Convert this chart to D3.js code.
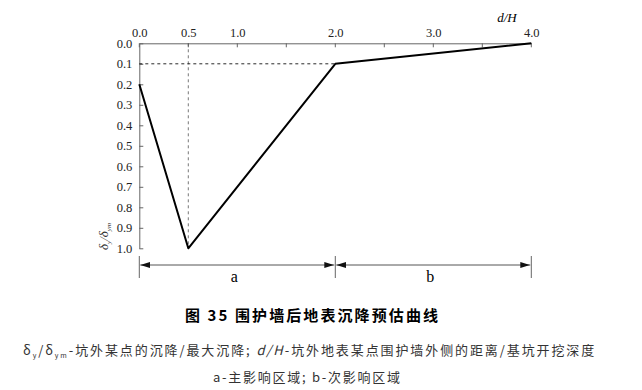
<!DOCTYPE html>
<html>
<head>
<meta charset="utf-8">
<script src="https://cdn.jsdelivr.net/npm/d3@7"></script>
<style>
  body { margin: 0; background: #fff; }
  svg { display: block; }
</style>
</head>
<body>
<div id="chart"></div>
<script>
// curve points (d/H, settlement ratio)
const xValues = [0.0, 0.5, 2.0, 4.0];
const yValues = [0.2, 1.0, 0.1, 0.0];
const xTickLabels = [0.0, 0.5, 1.0, 2.0, 3.0, 4.0];
const xMinorTicks = [0.0, 0.5, 1.0, 1.5, 2.0, 2.5, 3.0, 3.5, 4.0];
const yTickLabels = [0.0, 0.1, 0.2, 0.3, 0.4, 0.5, 0.6, 0.7, 0.8, 0.9, 1.0];
const zoneNames = ['a', 'b'];
const zoneBounds = [[0, 2], [2, 4]];
const guideX = 0.5;
const guideY = 0.1;
const titleText = '图 35 围护墙后地表沉降预估曲线';
const noteLine1 = '-坑外某点的沉降/最大沉降; ';
const noteLine1b = '-坑外地表某点围护墙外侧的距离/基坑开挖深度';
const noteLine2 = 'a-主影响区域; b-次影响区域';

const WIDTH = 642;
const HEIGHT = 390;
const SERIF = '"Liberation Serif", "DejaVu Serif", serif';

const svg = d3.select('#chart')
  .append('svg')
  .attr('width', WIDTH)
  .attr('height', HEIGHT);

const x = d3.scaleLinear().domain([0, 4]).range([139.3, 531.3]);
const y = d3.scaleLinear().domain([0, 1]).range([43.3, 248.3]);

svg.append('defs')
  .append('marker')
  .attr('id', 'arrow')
  .attr('viewBox', '0 0 10 6')
  .attr('refX', 10)
  .attr('refY', 3)
  .attr('markerWidth', 10)
  .attr('markerHeight', 6)
  .attr('markerUnits', 'userSpaceOnUse')
  .attr('orient', 'auto-start-reverse')
  .append('path')
  .attr('d', 'M0,0 L10,3 L0,6 Z')
  .attr('fill', '#111');

// top axis
const xAxis = svg.append('g')
  .attr('transform', `translate(0, ${y(0)})`)
  .call(d3.axisTop(x).tickValues(xTickLabels).tickFormat(d3.format('.1f')).tickSize(0).tickPadding(6))
  .attr('font-family', SERIF)
  .attr('font-size', 12.5);
xAxis.select('.domain').attr('stroke', '#666');
xAxis.selectAll('.tick text').attr('fill', '#222');
svg.append('g')
  .selectAll('line')
  .data(xMinorTicks)
  .join('line')
  .attr('x1', (d) => x(d))
  .attr('x2', (d) => x(d))
  .attr('y1', y(0))
  .attr('y2', y(0) + 4)
  .attr('stroke', '#666');

// left axis
const yAxis = svg.append('g')
  .attr('transform', `translate(${x(0)}, 0)`)
  .call(d3.axisLeft(y).tickValues(yTickLabels).tickFormat(d3.format('.1f')).tickSizeInner(-4).tickSizeOuter(0).tickPadding(5))
  .attr('font-family', SERIF)
  .attr('font-size', 12.5);
yAxis.select('.domain').attr('stroke', '#666');
yAxis.selectAll('.tick line').attr('stroke', '#666');
yAxis.selectAll('.tick text').attr('dx', -2).attr('fill', '#222');

// guide lines
svg.append('line')
  .attr('x1', x(guideX)).attr('x2', x(guideX))
  .attr('y1', y(0)).attr('y2', y(1))
  .attr('stroke', '#555')
  .attr('stroke-width', 0.8)
  .attr('stroke-dasharray', '3,3');
svg.append('line')
  .attr('x1', x(0)).attr('x2', x(2))
  .attr('y1', y(guideY)).attr('y2', y(guideY))
  .attr('stroke', '#111')
  .attr('stroke-width', 0.9)
  .attr('stroke-dasharray', '3,3');

// curve
const line = d3.line()
  .x((d, i) => x(xValues[i]))
  .y((d) => y(d));
svg.append('path')
  .datum(yValues)
  .attr('d', line)
  .attr('fill', 'none')
  .attr('stroke', '#000')
  .attr('stroke-width', 2)
  .attr('stroke-linejoin', 'round');

// axis names
svg.append('text')
  .attr('x', 507)
  .attr('y', 22)
  .attr('text-anchor', 'middle')
  .style('font-family', SERIF)
  .style('font-style', 'italic')
  .style('font-size', '13px')
  .text('d/H');

const yName = svg.append('text')
  .attr('transform', `translate(108, 250) rotate(-90)`)
  .style('font-family', SERIF)
  .style('font-style', 'italic')
  .style('font-size', '13px')
  .attr('fill', '#333');
yName.append('tspan').text('δ');
yName.append('tspan').attr('dy', 3).style('font-size', '7px').text('y');
yName.append('tspan').attr('dy', -3).text('/δ');
yName.append('tspan').attr('dy', 3).style('font-size', '7px').text('ym');

// dimension line for zones
const dimY = 265;
svg.append('g')
  .selectAll('line')
  .data([0, 2, 4])
  .join('line')
  .attr('x1', (d) => x(d)).attr('x2', (d) => x(d))
  .attr('y1', 256).attr('y2', 278)
  .attr('stroke', '#666');

const zones = svg.append('g')
  .selectAll('g')
  .data(zoneBounds)
  .join('g');
zones.append('line')
  .attr('x1', (d) => x(d[0]) + 1).attr('x2', (d) => x(d[1]) - 1)
  .attr('y1', dimY).attr('y2', dimY)
  .attr('stroke', '#555')
  .attr('marker-start', 'url(#arrow)')
  .attr('marker-end', 'url(#arrow)');
zones.append('text')
  .attr('x', (d) => x((d[0] + d[1]) / 2) - 3)
  .attr('y', 282)
  .attr('text-anchor', 'middle')
  .style('font-family', SERIF)
  .style('font-size', '16px')
  .text((d, i) => zoneNames[i]);

// caption
svg.append('text')
  .attr('x', 185)
  .attr('y', 321)
  .attr('textLength', 253)
  .attr('lengthAdjust', 'spacing')
  .style('font-family', '"Noto Sans CJK SC", sans-serif')
  .style('font-weight', 'bold')
  .style('font-size', '15px')
  .text(titleText);

const note = svg.append('text')
  .attr('x', 23)
  .attr('y', 355)
  .style('font-family', '"Noto Sans CJK SC", sans-serif')
  .style('font-size', '13px')
  .style('letter-spacing', '1.9px')
  .attr('fill', '#333');
note.append('tspan').text('δ');
note.append('tspan').attr('dy', 3).style('font-size', '7px').text('y');
note.append('tspan').attr('dy', -3).text('/δ');
note.append('tspan').attr('dy', 3).style('font-size', '7px').text('ym');
note.append('tspan').attr('dy', -3).text(noteLine1);
note.append('tspan').style('font-style', 'italic').text('d/H');
note.append('tspan').text(noteLine1b);

svg.append('text')
  .attr('x', 213)
  .attr('y', 382)
  .attr('textLength', 187)
  .attr('lengthAdjust', 'spacing')
  .style('font-family', '"Noto Sans CJK SC", sans-serif')
  .style('font-size', '13px')
  .attr('fill', '#333')
  .text(noteLine2);
</script>
</body>
</html>
